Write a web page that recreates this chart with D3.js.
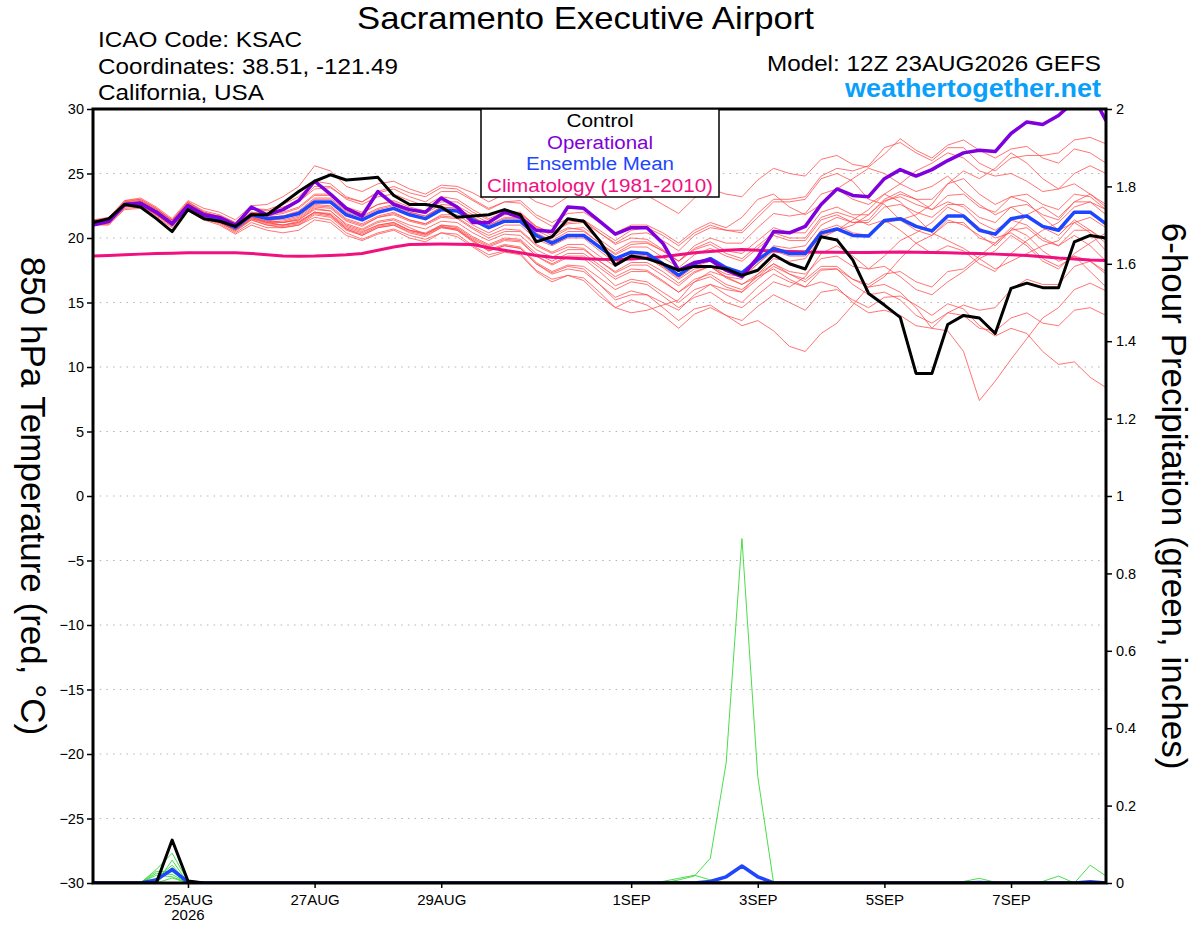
<!DOCTYPE html>
<html>
<head>
<meta charset="utf-8">
<title>Sacramento Executive Airport - GEFS</title>
<script src="https://cdnjs.cloudflare.com/ajax/libs/d3/7.8.5/d3.min.js"></script>
<style>
  body { margin: 0; background: #ffffff; }
  svg { font-family: "Liberation Sans", Arial, Helvetica, sans-serif; }
  .grid line { stroke: #b4b4b4; stroke-width: 1.2; stroke-dasharray: 1.5,5.2; }
  .axis text { fill: #000; }
  .axis line { stroke: #000; stroke-width: 1.5; }
  .axis path { display: none; }
  .member { fill: none; stroke: #ff4a4a; stroke-width: 0.9; stroke-opacity: 0.85; }
  .rain { fill: none; stroke: #35d935; stroke-width: 0.9; }
</style>
</head>
<body>
<div id="chart"></div>
<script>
// ---- model run / time axis ----
const runStart = "2026-08-23T12:00Z";
const stepHours = 6;
const dateTicks = ["2026-08-25", "2026-08-27", "2026-08-29", "2026-09-01", "2026-09-03", "2026-09-05", "2026-09-07"];
const tempTicks = [-30, -25, -20, -15, -10, -5, 0, 5, 10, 15, 20, 25, 30];
const precipTicks = [0, 0.2, 0.4, 0.6, 0.8, 1, 1.2, 1.4, 1.6, 1.8, 2];

// ---- 850 hPa temperature (deg C), every 6 h ----
const controlTemp = [
  21.2, 21.5, 22.6, 22.4, 21.5, 20.5, 22.2, 21.5,
  21.3, 20.9, 21.8, 21.8, 22.7, 23.6, 24.4, 24.9,
  24.5, 24.6, 24.7, 23.3, 22.6, 22.6, 22.4, 21.6,
  21.7, 21.8, 22.2, 21.8, 19.7, 20.1, 21.5, 21.3,
  19.8, 17.9, 18.6, 18.4, 18.0, 17.5, 17.8, 17.8,
  17.6, 17.1, 17.5, 18.7, 18.0, 17.6, 20.1, 19.85,
  18.3, 15.7, 14.8, 13.85, 9.5, 9.5, 13.3, 14.0,
  13.8, 12.6, 16.1, 16.5, 16.15, 16.15, 19.7, 20.2,
  20.0
];
const operationalTemp = [
  21.0, 21.3, 22.6, 22.7, 22.0, 21.1, 22.5, 21.8,
  21.6, 21.0, 22.4, 21.8, 22.2, 22.9, 24.4, 23.4,
  22.3, 21.7, 23.6, 22.6, 22.2, 22.0, 23.1, 22.4,
  21.2, 21.2, 22.0, 21.6, 20.6, 20.5, 22.4, 22.3,
  21.3, 20.3, 20.8, 20.8, 19.6, 17.5, 18.1, 18.3,
  17.5, 17.0, 18.5, 20.5, 20.4, 20.9, 22.6, 23.8,
  23.3, 23.2, 24.6, 25.3, 24.8, 25.3, 26.0, 26.6,
  26.8, 26.7, 28.1, 29.0, 28.8, 29.5, 30.6, 31.4,
  29.1
];
const meanTemp = [
  21.2, 21.3, 22.6, 22.7, 22.0, 21.1, 22.5, 21.8,
  21.4, 20.8, 21.8, 21.5, 21.6, 21.9, 22.8, 22.8,
  21.8, 21.4, 22.0, 22.3, 21.8, 21.5, 22.2, 22.1,
  21.4, 20.8, 21.3, 21.3, 20.2, 19.6, 20.2, 20.2,
  19.3, 18.4, 18.9, 18.8, 18.0, 17.1, 18.0, 18.4,
  17.7, 17.3, 18.3, 19.2, 18.8, 18.8, 20.4, 20.7,
  20.2, 20.15, 21.35, 21.5, 20.9, 20.55, 21.7, 21.7,
  20.6, 20.3, 21.5, 21.7, 20.9, 20.6, 22.0, 22.0,
  21.1
];
const climTemp = [
  18.6, 18.65, 18.7, 18.75, 18.8, 18.82, 18.85, 18.86,
  18.86, 18.85, 18.8, 18.7, 18.6, 18.58, 18.6, 18.65,
  18.7, 18.8, 19.05, 19.3, 19.5, 19.52, 19.53, 19.52,
  19.5, 19.25, 19.05, 18.85, 18.65, 18.5, 18.45, 18.4,
  18.35, 18.33, 18.38, 18.45, 18.55, 18.7, 18.85, 18.95,
  19.05, 19.1, 19.05, 19.0, 18.95, 18.92, 18.9, 18.9,
  18.88, 18.88, 18.9, 18.92, 18.9, 18.88, 18.85, 18.82,
  18.8, 18.75, 18.7, 18.65, 18.55, 18.45, 18.38, 18.3,
  18.25
];
// ensemble members (red)
const memberTemp = [
  [21.4,21.5,22.9,23.1,22.4,21.5,22.9,22.3, 22.0,21.4,22.5,22.6,23.2,24.0,25.6,25.2, 24.0,23.6,24.2,24.4,23.8,23.4,24.1,24.0,
   23.5,22.8,23.4,23.6,22.8,22.4,23.2,23.4, 22.8,22.2,22.9,23.3,22.6,21.9,23.1,23.8, 23.4,23.2,24.5,25.4,25.0,24.8,26.1,26.4,
   25.7,25.5,26.5,27.7,26.8,26.2,27.2,27.6, 26.8,26.2,26.9,27.1,26.2,25.8,26.9,26.6, 25.8],
  [21.0,21.1,22.2,22.3,21.6,20.8,22.1,21.4, 21.0,20.3,21.0,20.6,20.4,20.6,21.4,21.2, 20.2,19.8,20.3,20.6,20.0,19.7,20.4,20.1,
   19.3,18.5,18.9,18.7,17.4,16.6,17.1,16.9, 15.8,14.6,15.2,14.8,14.0,13.0,14.1,14.6, 14.0,13.6,14.7,15.6,15.0,14.4,15.8,16.0,
   15.2,14.6,15.4,15.5,14.8,14.0,14.9,14.5, 13.2,12.4,13.0,12.6,11.2,10.2,10.4,9.2, 8.4],
  [21.1,21.2,22.5,22.5,21.8,21.0,22.3,21.6, 21.2,20.6,21.5,21.2,21.0,21.3,22.0,21.9, 20.9,20.5,21.0,21.2,20.6,20.4,21.0,20.8,
   20.0,19.4,19.9,19.8,18.6,17.9,18.5,18.4, 17.4,16.3,16.8,16.6,15.8,15.0,16.0,16.4, 15.6,15.0,16.2,17.2,16.6,16.2,17.5,17.6,
   16.8,16.2,16.4,15.8,14.6,13.0,12.8,11.2, 7.4,8.9,10.6,12.2,13.8,14.6,16.0,16.5, 15.9],
  [21.3,21.4,22.7,22.8,22.1,21.2,22.6,21.9, 21.5,20.9,21.9,21.4,21.2,21.4,22.3,22.1, 21.0,20.6,21.2,21.4,20.8,20.3,20.9,20.6,
   19.8,19.0,19.4,19.2,18.0,17.2,17.6,17.4, 16.4,15.4,15.9,15.6,14.6,13.6,14.5,14.8, 14.0,13.2,13.6,12.8,11.6,11.2,12.6,13.4,
   14.8,16.2,17.0,18.4,19.6,20.2,21.4,21.0, 20.2,19.4,20.6,21.8,22.4,21.6,22.8,23.4, 22.6],
  [21.2,21.4,22.8,23.0,22.3,21.3,22.8,22.0, 21.7,21.2,22.3,22.2,22.6,23.2,24.4,24.2, 23.2,22.8,23.5,23.8,23.2,22.8,23.6,23.6,
   22.9,22.2,22.8,22.9,21.8,21.2,21.9,22.0, 21.2,20.4,21.0,21.0,20.4,19.6,20.6,21.2, 20.8,21.6,23.0,23.4,22.4,21.8,22.6,23.8,
   24.6,25.4,25.0,24.2,23.6,24.0,24.8,23.6, 22.6,21.8,22.4,21.6,20.8,20.2,21.4,20.6, 19.8],
  [21.0,21.0,22.3,22.4,21.7,20.9,22.2,21.5, 21.1,20.4,21.2,20.8,20.8,21.0,21.8,21.6, 20.6,20.2,20.8,21.0,20.5,20.2,20.8,20.7,
   19.8,19.1,19.5,19.3,18.1,17.4,17.9,17.8, 16.9,16.0,16.6,16.4,15.5,14.6,15.4,15.8, 15.0,14.6,15.6,16.6,16.2,17.0,18.8,19.4,
   18.6,17.6,17.8,17.0,16.0,15.6,16.6,17.4, 18.4,19.0,20.2,19.4,18.2,17.6,18.8,19.6, 20.4],
  [21.3,21.5,22.8,22.9,22.2,21.4,22.7,22.0, 21.6,21.0,22.0,21.9,22.2,22.8,24.0,24.0, 23.0,22.6,23.2,23.4,22.9,22.5,23.2,23.0,
   22.2,21.5,22.0,22.0,20.9,20.4,21.2,21.4, 20.6,19.8,20.6,20.8,20.2,19.4,20.4,21.0, 20.6,20.4,21.6,22.8,22.8,23.0,24.6,25.0,
   24.4,23.0,22.6,21.4,21.8,22.6,24.2,25.2, 24.6,25.4,26.6,25.8,24.6,23.8,24.2,23.4, 22.4],
  [21.2,21.2,22.5,22.6,21.9,21.0,22.4,21.7, 21.3,20.7,21.6,21.2,21.2,21.5,22.4,22.3, 21.3,20.9,21.6,21.9,21.4,21.1,21.8,21.8,
   21.0,20.4,21.0,21.0,19.9,19.4,20.0,20.0, 19.0,18.1,18.7,18.6,17.8,16.9,17.8,18.2, 17.4,17.0,18.0,19.0,18.6,18.6,20.2,20.6,
   21.4,22.2,23.4,22.8,21.6,20.4,19.8,19.2, 18.4,17.6,18.2,18.8,19.4,19.8,21.2,21.6, 20.8],
  [21.1,21.3,22.6,22.8,22.1,21.2,22.6,21.9, 21.5,20.9,21.9,21.7,21.9,22.3,23.3,23.3, 22.3,21.9,22.6,22.9,22.4,22.1,22.8,22.8,
   22.0,21.4,21.9,21.9,20.8,20.2,20.8,20.6, 19.6,18.8,19.5,19.6,19.0,18.2,19.4,20.0, 19.6,19.6,20.8,21.9,21.7,21.9,23.4,23.8,
   23.0,22.6,23.4,24.2,25.2,25.8,26.6,26.2, 25.2,24.8,25.0,24.4,23.6,23.8,25.0,25.6, 25.0],
  [21.3,21.3,22.6,22.6,21.9,21.1,22.4,21.7, 21.3,20.6,21.5,21.1,21.0,21.2,22.0,21.8, 20.8,20.4,21.0,21.2,20.6,20.3,20.9,20.7,
   19.9,19.3,19.8,19.7,18.6,18.0,18.6,18.6, 17.7,16.8,17.4,17.4,16.6,15.8,16.8,17.2, 16.4,16.0,17.0,18.0,17.4,17.2,18.4,18.6,
   17.8,17.6,18.6,19.8,20.4,21.2,22.4,21.8, 20.8,20.0,20.4,19.6,18.4,17.8,18.6,18.2, 17.2],
  [21.4,21.6,22.9,23.0,22.3,21.4,22.8,22.1, 21.8,21.2,22.3,22.1,22.4,22.8,23.8,23.9, 23.1,22.8,23.6,24.0,23.5,23.2,23.9,23.8,
   23.0,22.3,22.8,22.7,21.6,20.9,21.5,21.4, 20.4,19.5,20.0,19.9,19.1,18.2,19.1,19.5, 18.8,18.4,19.4,20.4,20.0,20.0,21.6,22.0,
   21.6,21.0,21.4,20.6,19.6,18.8,19.4,19.0, 18.0,17.4,18.8,19.8,20.6,21.2,22.4,22.8, 22.2],
  [21.0,21.1,22.4,22.5,21.8,20.9,22.3,21.6, 21.2,20.6,21.4,21.0,20.8,21.0,21.6,21.4, 20.4,19.9,20.4,20.7,20.2,19.9,20.4,20.3,
   19.4,18.7,19.0,18.8,17.5,16.8,17.1,16.7, 15.5,14.6,14.2,14.4,14.8,15.2,16.6,17.4, 17.0,16.8,18.0,19.2,19.0,19.0,20.6,21.0,
   20.4,20.2,21.2,21.4,20.6,20.2,21.2,21.2, 20.0,19.6,20.6,20.8,19.8,19.4,20.6,20.6, 19.6],
  [21.2,21.3,22.6,22.7,22.0,21.2,22.5,21.9, 21.5,20.9,21.8,21.5,21.4,21.7,22.6,22.5, 21.5,21.1,21.7,22.0,21.4,21.1,21.7,21.6,
   20.8,20.2,20.7,20.6,19.5,18.9,19.5,19.5, 18.6,17.8,18.5,18.5,17.7,16.8,17.6,17.8, 16.9,16.4,17.0,17.6,16.8,16.2,16.6,16.2,
   15.0,14.2,14.4,14.0,13.2,13.0,14.2,14.8, 14.4,14.6,16.0,16.8,16.4,16.4,17.8,18.2, 17.4],
  [21.3,21.4,22.7,22.9,22.2,21.3,22.7,22.0, 21.6,21.0,22.0,21.8,22.0,22.4,23.4,23.4, 22.4,22.0,22.6,22.8,22.2,21.9,22.6,22.5,
   21.8,21.2,21.8,21.9,20.9,20.4,21.1,21.2, 20.4,19.6,20.3,20.4,19.8,19.0,20.2,20.8, 20.6,20.6,21.9,23.0,23.0,23.2,24.8,25.4,
   25.2,25.6,27.0,27.4,26.6,26.0,27.0,27.0, 25.8,25.2,26.2,26.4,26.4,26.6,27.6,27.8, 27.3],
  [21.1,21.2,22.5,22.6,21.9,21.0,22.4,21.7, 21.3,20.7,21.6,21.2,21.0,21.2,22.0,21.8, 20.7,20.2,20.8,21.0,20.4,20.1,20.8,20.6,
   19.7,19.0,19.4,19.2,18.0,17.3,17.8,17.6, 16.4,15.2,15.6,15.6,15.0,14.4,15.6,16.4, 16.0,15.8,17.2,18.4,18.2,18.4,20.0,20.6,
   21.0,21.8,23.0,23.6,23.0,22.2,22.8,22.4, 21.2,20.6,21.4,21.0,20.0,19.4,20.2,19.4, 18.2],
  [21.2,21.4,22.7,22.8,22.1,21.2,22.6,21.9, 21.5,20.9,21.9,21.6,21.7,22.1,23.1,23.1, 22.1,21.7,22.3,22.6,22.0,21.7,22.4,22.3,
   21.6,21.0,21.6,21.6,20.6,20.0,20.7,20.8, 19.9,19.0,19.7,19.7,19.0,18.2,19.2,19.7, 19.0,18.8,19.8,20.8,20.4,20.4,22.0,22.4,
   21.8,21.8,22.9,23.2,22.6,22.2,23.3,23.4, 22.4,22.0,23.2,23.4,22.6,22.2,23.4,23.2, 22.2],
  [21.3,21.2,22.5,22.5,21.8,21.0,22.3,21.6, 21.2,20.5,21.4,21.0,20.9,21.1,21.9,21.7, 20.7,20.3,20.9,21.1,20.6,20.3,21.0,20.9,
   20.1,19.5,20.0,19.9,18.8,18.2,18.8,18.8, 17.9,17.0,17.6,17.5,16.7,15.8,16.6,17.0, 16.2,15.8,16.8,17.8,17.2,16.8,17.8,17.8,
   16.8,16.4,17.2,17.4,16.6,16.2,17.4,17.6, 18.6,19.6,20.8,20.2,19.0,18.2,18.6,17.4, 16.2],
  [21.2,21.3,22.6,22.7,22.0,21.1,22.5,21.8, 21.4,20.8,21.8,21.6,21.7,22.0,23.0,23.0, 22.0,21.6,22.2,22.5,22.0,21.7,22.4,22.3,
   21.6,21.0,21.5,21.5,20.4,19.8,20.5,20.5, 19.6,18.7,19.3,19.3,18.5,17.7,18.7,19.2, 18.6,18.2,19.2,20.2,19.8,19.8,21.4,21.8,
   21.2,21.2,22.4,22.6,22.0,21.6,22.6,22.6, 21.6,21.2,22.4,22.6,21.8,21.4,22.8,22.8, 21.8],
  [21.0,21.2,22.5,22.6,21.9,21.1,22.4,21.7, 21.3,20.7,21.6,21.3,21.3,21.6,22.5,22.4, 21.4,21.0,21.6,21.8,21.3,21.0,21.6,21.5,
   20.7,20.0,20.5,20.5,19.4,18.8,19.3,19.2, 18.2,17.3,17.9,17.9,17.1,16.3,17.3,17.8, 17.2,17.0,18.2,19.4,19.2,19.4,21.0,21.6,
   21.2,21.4,22.8,23.4,23.0,23.0,24.2,24.6, 23.4,22.6,23.2,22.8,21.6,20.6,21.2,20.4, 19.0],
  [21.3,21.4,22.7,22.7,22.0,21.2,22.5,21.8, 21.4,20.8,21.7,21.3,21.2,21.4,22.2,22.1, 21.1,20.7,21.3,21.5,21.0,20.7,21.3,21.2,
   20.4,19.8,20.3,20.2,19.1,18.5,19.1,19.1, 18.2,17.4,18.1,18.1,17.4,16.5,17.4,17.8, 17.0,16.4,17.2,18.0,17.2,16.6,17.6,17.6,
   16.4,15.6,15.8,15.2,14.0,13.4,14.2,14.0, 13.0,12.8,13.8,14.2,13.4,13.2,14.4,14.6, 14.0]
];

// ---- 6-hour precipitation (inches), only non-zero steps listed as [step, value] ----
const controlPrecip = [[5, 0.111], [6, 0.005]];
const meanPrecip = [[4, 0.008], [5, 0.035], [6, 0.002], [39, 0.004], [40, 0.016], [41, 0.044], [42, 0.016], [56, 0.001], [63, 0.003]];
const memberPrecip = [
  [[4, 0.035], [5, 0.077], [6, 0.004]],
  [[4, 0.03], [5, 0.029]],
  [[5, 0.059]],
  [[4, 0.012], [5, 0.046]],
  [[5, 0.04], [6, 0.003]],
  [[4, 0.02], [5, 0.016]],
  [[5, 0.013]],
  [[4, 0.025], [5, 0.022]],
  [[37, 0.008], [38, 0.018], [39, 0.064], [40, 0.31], [41, 0.89], [42, 0.275]],
  [[36, 0.004], [37, 0.012], [38, 0.02], [39, 0.008]],
  [[55, 0.004], [56, 0.012], [57, 0.002]],
  [[60, 0.004], [61, 0.018], [63, 0.046], [64, 0.018]],
  [], [], [], [], [], [], [], []
];

/** Class implementing the GEFS meteogram. */
class Meteogram {

    constructor() {
        this.width = 1200;
        this.height = 927;
        this.plot = {left: 93, right: 1106, top: 109, bottom: 883};
        this.nSteps = controlTemp.length;

        this.svg = d3.select("#chart").append("svg")
            .attr("width", this.width)
            .attr("height", this.height);

        this.t0 = d3.utcParse("%Y-%m-%dT%H:%MZ")(runStart);
        this.x = d3.scaleUtc()
            .domain([this.t0, this.timeAt(this.nSteps - 1)])
            .range([this.plot.left, this.plot.right]);
        this.yT = d3.scaleLinear().domain([-30, 30]).range([this.plot.bottom, this.plot.top]);
        this.yP = d3.scaleLinear().domain([0, 2]).range([this.plot.bottom, this.plot.top]);
    }

    timeAt(i) {
        return d3.utcHour.offset(this.t0, i * stepHours);
    }

    // turns a [step, value] list into a full series
    expand(pairs) {
        let out = new Array(this.nSteps).fill(0);
        pairs.forEach(p => { out[p[0]] = p[1]; });
        return out;
    }

    text(str, x, y, size, opts) {
        opts = opts || {};
        let t = this.svg.append("text")
            .attr("x", x).attr("y", y)
            .attr("font-size", size)
            .attr("fill", opts.fill || "#000")
            .attr("text-anchor", opts.anchor || "start")
            .attr("font-weight", opts.weight || "normal")
            .text(str);
        if (opts.len) {
            t.attr("textLength", opts.len).attr("lengthAdjust", "spacingAndGlyphs");
        }
        return t;
    }

    draw() {
        let p = this.plot, svg = this.svg;

        svg.append("defs").append("clipPath").attr("id", "plotClip")
            .append("rect")
            .attr("x", p.left).attr("y", p.top)
            .attr("width", p.right - p.left).attr("height", p.bottom - p.top);

        //dotted grid for the temperature ticks
        svg.append("g").attr("class", "grid")
            .selectAll("line")
            .data(tempTicks.filter(t => t > -30 && t < 30))
            .join("line")
            .attr("x1", p.left).attr("x2", p.right)
            .attr("y1", d => this.yT(d)).attr("y2", d => this.yT(d));

        let plotG = svg.append("g").attr("clip-path", "url(#plotClip)");

        let tLine = d3.line().x((d, i) => this.x(this.timeAt(i))).y(d => this.yT(d));
        let pLine = d3.line().x((d, i) => this.x(this.timeAt(i))).y(d => this.yP(d));

        plotG.append("g").selectAll("path")
            .data(memberTemp)
            .join("path")
            .attr("class", "member")
            .attr("d", tLine);

        plotG.append("g").selectAll("path")
            .data(memberPrecip.map(m => this.expand(m)))
            .join("path")
            .attr("class", "rain")
            .attr("d", pLine);

        plotG.append("path").datum(this.expand(meanPrecip))
            .attr("fill", "none").attr("stroke", "#1e46ff").attr("stroke-width", 3.5)
            .attr("stroke-linejoin", "round").attr("d", pLine);
        plotG.append("path").datum(this.expand(controlPrecip))
            .attr("fill", "none").attr("stroke", "#000").attr("stroke-width", 3)
            .attr("stroke-linejoin", "round").attr("d", pLine);

        let thick = [
            {data: climTemp, color: "#f0107f", w: 3},
            {data: meanTemp, color: "#1e46ff", w: 3.5},
            {data: operationalTemp, color: "#7f00dc", w: 3.5},
            {data: controlTemp, color: "#000000", w: 3}
        ];
        thick.forEach(s => {
            plotG.append("path").datum(s.data)
                .attr("fill", "none")
                .attr("stroke", s.color)
                .attr("stroke-width", s.w)
                .attr("stroke-linejoin", "round")
                .attr("d", tLine);
        });

        //frame
        svg.append("rect")
            .attr("x", p.left).attr("y", p.top)
            .attr("width", p.right - p.left).attr("height", p.bottom - p.top)
            .attr("fill", "none").attr("stroke", "#000").attr("stroke-width", 3);

        //axes
        svg.append("g").attr("class", "axis")
            .attr("transform", "translate(" + p.left + ",0)")
            .call(d3.axisLeft(this.yT).tickValues(tempTicks).tickSize(6).tickPadding(3))
            .call(g => g.selectAll("text").attr("font-size", 14.5).attr("font-family", null));

        svg.append("g").attr("class", "axis")
            .attr("transform", "translate(" + p.right + ",0)")
            .call(d3.axisRight(this.yP).tickValues(precipTicks).tickSize(6).tickPadding(4)
                .tickFormat(d => String(+d.toFixed(1))))
            .call(g => g.selectAll("text").attr("font-size", 14.5).attr("font-family", null));

        let fmt = d3.utcFormat("%-d%b");
        let tickDates = dateTicks.map(d => d3.utcParse("%Y-%m-%d")(d));
        svg.append("g").attr("class", "axis")
            .attr("transform", "translate(0," + p.bottom + ")")
            .call(d3.axisBottom(this.x).tickValues(tickDates).tickSize(5).tickPadding(6)
                .tickFormat(d => fmt(d).toUpperCase()))
            .call(g => g.selectAll("text").attr("font-size", 15).attr("font-family", null));
        this.text(d3.utcFormat("%Y")(tickDates[0]), this.x(tickDates[0]), 920, 15, {anchor: "middle"});

        //axis titles
        svg.append("text")
            .attr("transform", "translate(21," + (p.top + p.bottom) / 2 + ") rotate(90)")
            .attr("text-anchor", "middle").attr("font-size", 35)
            .text("850 hPa Temperature (red, \u00b0C)");
        svg.append("text")
            .attr("transform", "translate(1162," + (p.top + p.bottom) / 2 + ") rotate(90)")
            .attr("text-anchor", "middle").attr("font-size", 35)
            .text("6-hour Precipitation (green, inches)");

        //header
        this.text("Sacramento Executive Airport", 357, 29, 32, {len: 457});
        this.text("ICAO Code: KSAC", 98, 47, 22, {len: 204});
        this.text("Coordinates: 38.51, -121.49", 98, 74, 22, {len: 300});
        this.text("California, USA", 98, 100, 22, {len: 166});
        this.text("Model: 12Z 23AUG2026 GEFS", 767, 71, 22, {len: 334});
        this.text("weathertogether.net", 845, 97, 26, {len: 256, weight: "bold", fill: "#0aa0fa"});

        //legend
        svg.append("rect")
            .attr("x", 481).attr("y", p.top)
            .attr("width", 238).attr("height", 88)
            .attr("fill", "#fff").attr("stroke", "#000").attr("stroke-width", 1.5);
        let legend = [
            {label: "Control", color: "#000000", len: 67},
            {label: "Operational", color: "#7f00dc", len: 106},
            {label: "Ensemble Mean", color: "#1e46ff", len: 148},
            {label: "Climatology (1981-2010)", color: "#f0107f", len: 226}
        ];
        legend.forEach((l, i) => {
            this.text(l.label, 600, 127 + i * 21.6, 18, {anchor: "middle", fill: l.color, len: l.len});
        });
    }
}

let chart = new Meteogram();
chart.draw();
</script>
</body>
</html>
